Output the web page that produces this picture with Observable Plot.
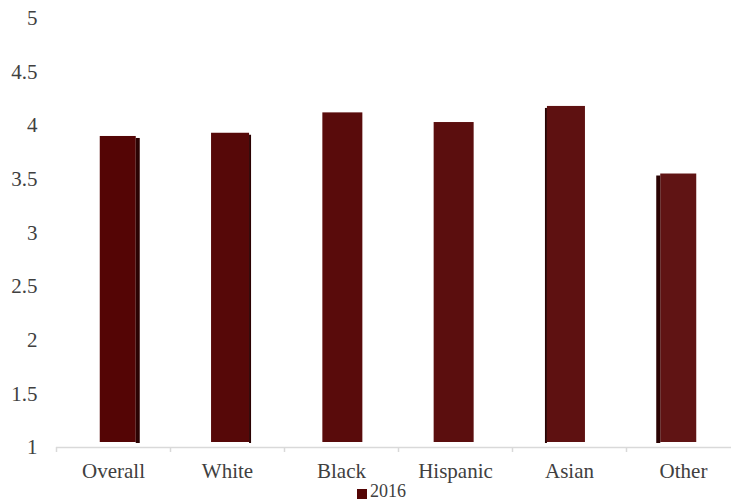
<!DOCTYPE html>
<html>
<head>
<meta charset="utf-8">
<script src="https://cdn.jsdelivr.net/npm/d3@7"></script>
<script src="https://cdn.jsdelivr.net/npm/@observablehq/plot@0.6"></script>
<style>
  html, body { margin: 0; padding: 0; background: #fff; }
  #wrap { position: relative; width: 731px; height: 502px; font-family: 'Liberation Serif'; }
  #legend { position: absolute; left: 357px; top: 481px; font-size: 18px; color: #404040; display: flex; align-items: center; white-space: nowrap; font-family: 'Liberation Serif'; }
  #legend .sw { display: inline-block; width: 10px; height: 10px; margin-right: 3px; margin-top: 4px; }
</style>
</head>
<body>
<div id="wrap"></div>
<script>
const categories = ["Overall", "White", "Black", "Hispanic", "Asian", "Other"];
const values2016 = [3.90, 3.93, 4.12, 4.03, 4.18, 3.55];
const yTicks = [1, 1.5, 2, 2.5, 3, 3.5, 4, 4.5, 5];
const seriesName = "2016";

const data = categories.map((c, i) => ({category: c, value: values2016[i], idx: i}));

const FONT = "Liberation Serif";
const W = 731, H = 502;
const mL = 56, mR = 0, mT = 18, mB = 55;
const rangeX = [56, 740];
const step = (rangeX[1] - rangeX[0]) / categories.length;
const bw = 40;
const pInner = 1 - bw / step;
const pOuter = pInner / 2;

const textColor = "#404040";
const axisColor = "#d9d9d9";
const sideColor = "#2a0202";
const frontColor = d3.interpolateRgb("#540505", "#601414");

const barMarks = [];
categories.forEach((c, i) => {
  const subset = data.filter(d => d.category === c);
  const dx = (2.5 - i) * 2.7;
  const side = Math.floor(Math.abs(i - 2.5) * 1.6);
  const sideRight = i < 3;
  barMarks.push(Plot.barY(subset, {
    x: "category", y1: 1, y2: "value",
    fill: frontColor(i / 5), dx,
    insetBottom: 5,
    insetLeft: sideRight ? 0 : side,
    insetRight: sideRight ? side : 0
  }));
  if (side > 0) {
    barMarks.push(Plot.barY(subset, {
      x: "category", y1: 1, y2: "value",
      fill: sideColor, dx,
      insetBottom: 4, insetTop: 2,
      insetLeft: sideRight ? bw - side : 0,
      insetRight: sideRight ? 0 : bw - side
    }));
  }
});

const chart = Plot.plot({
  width: W, height: H,
  marginLeft: mL, marginRight: mR, marginTop: mT, marginBottom: mB,
  style: {fontFamily: FONT, background: "#fff", overflow: "visible"},
  x: {domain: categories, range: rangeX, paddingInner: pInner, paddingOuter: pOuter, label: null},
  y: {domain: [1, 5], label: null},
  marks: [
    Plot.axisY({ticks: yTicks, tickSize: 0, tickPadding: 19, fontSize: 21, fill: textColor, label: null, tickFormat: d => String(d)}),
    ...barMarks,
    Plot.ruleY([1], {stroke: axisColor, strokeWidth: 1.5}),
    Plot.axisX({tickSize: 5, dx: -step / 2, tickFormat: () => "", stroke: axisColor, strokeWidth: 1.5, label: null}),
    Plot.axisX({tickSize: 0, tickPadding: 16, fontSize: 21, fill: textColor, label: null})
  ]
});

chart.setAttribute("font-family", FONT);
chart.querySelectorAll("g, text").forEach(el => {
  if (el.hasAttribute("font-family")) el.setAttribute("font-family", FONT);
});
chart.querySelectorAll("text").forEach(t => { t.style.fontFamily = "'Liberation Serif'"; });

const wrap = document.getElementById("wrap");
wrap.appendChild(chart);
const legend = document.createElement("div");
legend.id = "legend";
legend.innerHTML = `<span class="sw" style="background:${frontColor(0)}"></span><span>${seriesName}</span>`;
wrap.appendChild(legend);
</script>
</body>
</html>
